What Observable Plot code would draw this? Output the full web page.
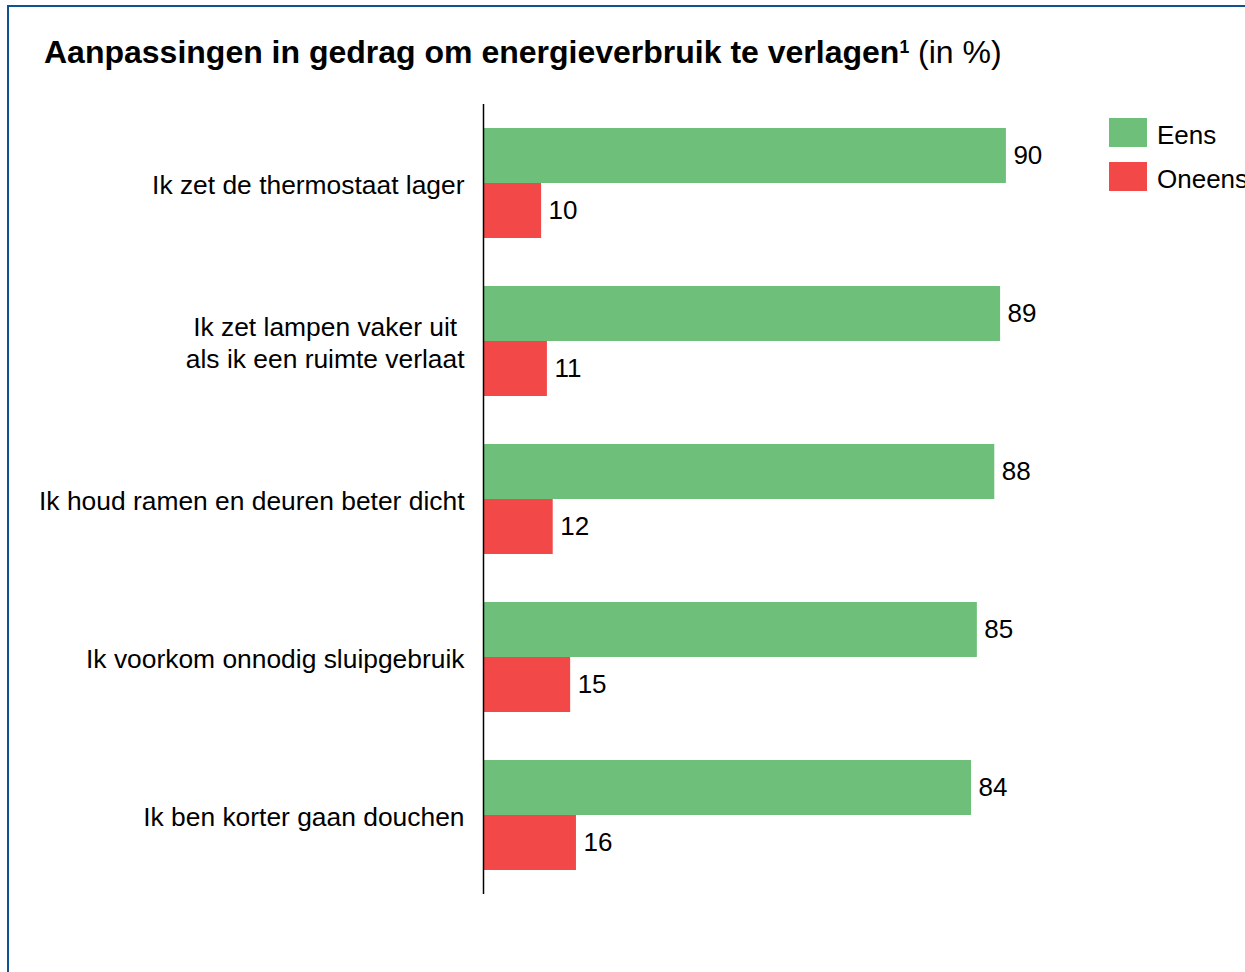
<!DOCTYPE html>
<html>
<head>
<meta charset="utf-8">
<script src="https://cdn.jsdelivr.net/npm/d3@7"></script>
<script src="https://cdn.jsdelivr.net/npm/@observablehq/plot@0.6"></script>
<style>
  html, body { margin: 0; padding: 0; background: #fff; }
  body { font-family: "Liberation Sans", Arial, Helvetica, sans-serif; color: #000; }
  #wrap { position: relative; width: 1245px; height: 972px; overflow: hidden; }
  #frame { position: absolute; left: 7px; top: 5px; width: 1400px; height: 1100px; border: 2.5px solid #0f5290; box-sizing: border-box; }
  #title { position: absolute; left: 44px; top: 36px; font-size: 32px; line-height: 32px; white-space: nowrap; }
  #title b { font-weight: bold; }
  #title sup { font-size: 0.55em; vertical-align: baseline; position: relative; top: -10px; font-weight: bold; }
  #chart { position: absolute; left: 0; top: 0; }
  .sw { position: absolute; width: 38px; height: 29px; }
  .lg { position: absolute; font-size: 26px; line-height: 29px; white-space: nowrap; }
</style>
</head>
<body>
<div id="wrap">
  <div id="frame"></div>
  <div id="title"><b>Aanpassingen in gedrag om energieverbruik te verlagen<sup>1</sup></b> (in %)</div>
  <div id="chart"></div>
  <div id="legend"></div>
</div>
<script>
const categories = [
  "Ik zet de thermostaat lager",
  "Ik zet lampen vaker uit\u00a0\nals ik een ruimte verlaat",
  "Ik houd ramen en deuren beter dicht",
  "Ik voorkom onnodig sluipgebruik",
  "Ik ben korter gaan douchen"
];
const series = ["Eens", "Oneens"];
const eens = [90, 89, 88, 85, 84];
const oneens = [10, 11, 12, 15, 16];
const colors = ["#6dbf7a", "#f34848"];

const data = categories.flatMap((c, i) => [
  {cat: c, series: series[0], value: eens[i]},
  {cat: c, series: series[1], value: oneens[i]}
]);

const chart = Plot.plot({
  width: 1245,
  height: 972,
  marginLeft: 483,
  marginRight: 181,
  marginTop: 104,
  marginBottom: 78,
  style: {fontFamily: '"Liberation Sans", Arial, Helvetica, sans-serif', fontSize: "26px", color: "#000", background: "transparent", overflow: "visible"},
  x: {domain: [0, 100], axis: null},
  y: {domain: series, paddingInner: 0, paddingOuter: 0.411, axis: null},
  fy: {domain: categories, padding: 0, label: null},
  color: {domain: series, range: colors},
  marks: [
    Plot.barX(data, {fy: "cat", y: "series", x: "value", fill: "series"}),
    Plot.text(data, {fy: "cat", y: "series", x: "value", text: d => String(d.value), dx: 7, textAnchor: "start", fontSize: 26, fill: "#000"}),
    Plot.ruleX([0], {stroke: "#000", strokeWidth: 1.5}),
    Plot.axisFy({anchor: "left", tickSize: 0, tickPadding: 19, fontSize: 26.4, lineHeight: 1.22, label: null, fill: "#000"})
  ]
});
document.getElementById("chart").appendChild(chart);

const legend = document.getElementById("legend");
series.forEach((s, i) => {
  const top = 118 + i * 44;
  const sw = document.createElement("div");
  sw.className = "sw";
  sw.style.left = "1109px";
  sw.style.top = top + "px";
  sw.style.background = colors[i];
  legend.appendChild(sw);
  const lb = document.createElement("div");
  lb.className = "lg";
  lb.style.left = "1157px";
  lb.style.top = (top + 2.5) + "px";
  lb.textContent = s;
  legend.appendChild(lb);
});
</script>
</body>
</html>
